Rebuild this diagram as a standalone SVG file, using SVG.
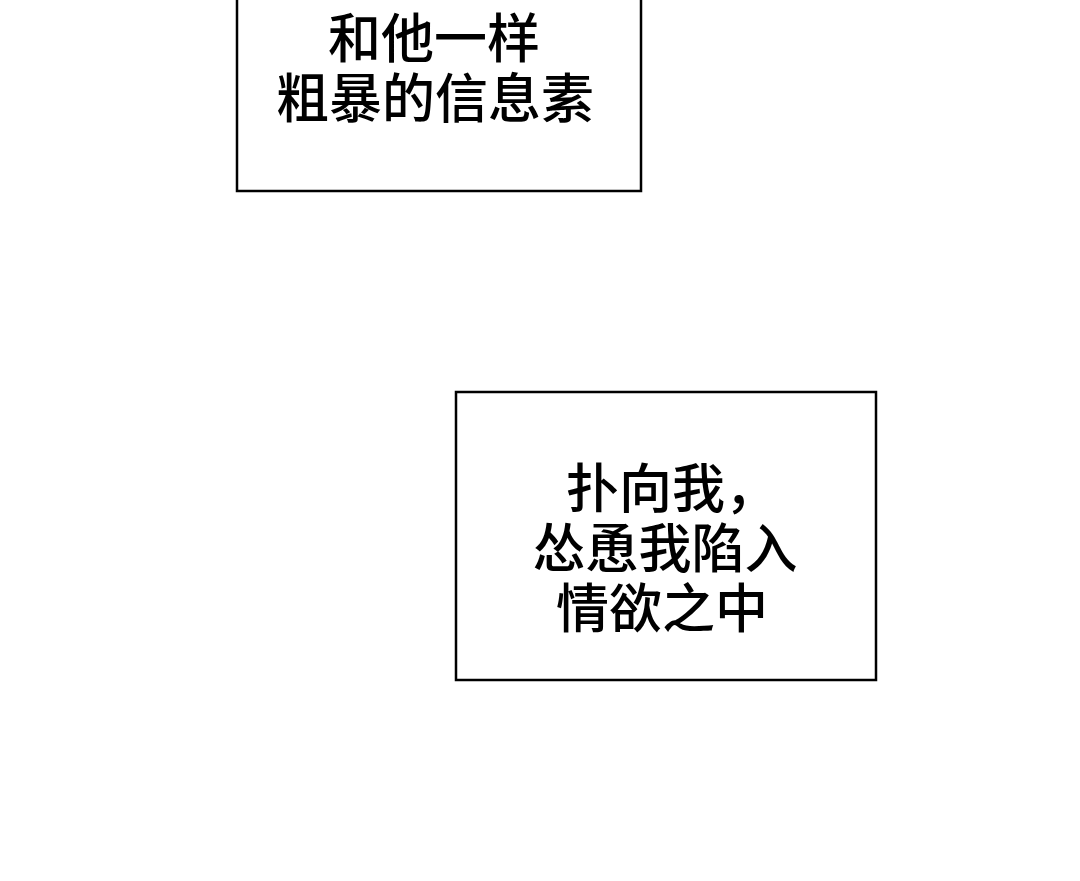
<svg xmlns="http://www.w3.org/2000/svg" width="1080" height="881" viewBox="0 0 1080 881">
<style>
.box{fill:#fff;stroke:#000;stroke-width:2.5}
.t{font-family:"Noto Sans CJK SC","Noto Sans",sans-serif;font-size:53px;font-weight:500;fill:#000;text-anchor:middle}
</style>
<rect width="1080" height="881" fill="#fff"/>
<g id="caption1">
<rect class="box" x="237" y="-10" width="404" height="201"/>
<text class="t" x="434" y="58">和他一样</text>
<text class="t" x="435" y="118">粗暴的信息素</text>
</g>
<g id="caption2">
<rect class="box" x="456" y="392" width="420" height="288"/>
<text class="t" x="672" y="508">扑向我，</text>
<text class="t" x="665" y="568">怂恿我陷入</text>
<text class="t" x="662" y="628">情欲之中</text>
</g>
<g id="connectors"/>
</svg>
